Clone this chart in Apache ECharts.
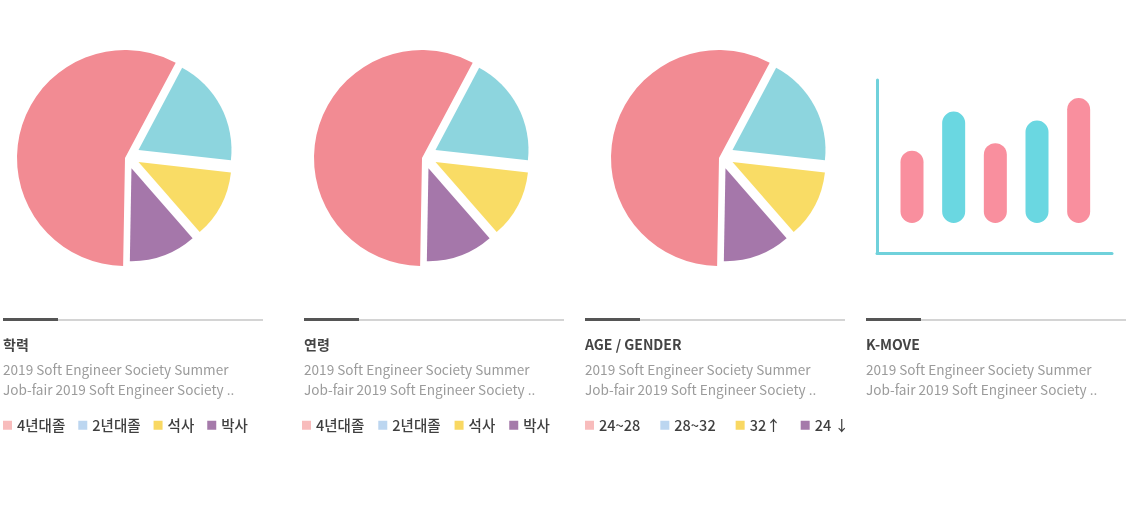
<!DOCTYPE html>
<html>
<head>
<meta charset="utf-8">
<script src="https://cdn.jsdelivr.net/npm/echarts@6/dist/echarts.min.js"></script>
<style>
html,body{margin:0;padding:0;background:#fff;}
#chart{width:1127px;height:511px;}
</style>
</head>
<body>
<div id="chart"></div>
<script>
// ---- data ----
const eduNames = ['4년대졸', '2년대졸', '석사', '박사'];
const eduValues = [57.5, 19, 11.8, 11.7];
const ageNames = ['4년대졸', '2년대졸', '석사', '박사'];
const ageValues = [57.5, 19, 11.8, 11.7];
const genderNames = ['24~28', '28~32', '32↑', '24 ↓'];
const genderValues = [57.5, 19, 11.8, 11.7];
const panelTitles = ['학력', '연령', 'AGE / GENDER', 'K-MOVE'];
const panelDesc = '2019 Soft Engineer Society Summer\nJob-fair 2019 Soft Engineer Society ..';
const barCategories = [1, 2, 3, 4, 5];
const barValues = [48, 74, 53, 68, 83];

// ---- styles ----
const pieColors = ['#f28b93', '#8dd5de', '#f9dc65', '#a577aa'];
const legendColors = ['#f8bcbc', '#bcd6f0', '#f9d862', '#a57aaa'];
const barColors = ['#f98f9e', '#6ad7e1'];
const axisColor = '#70d1db';
const KR = '"Noto Sans CJK KR", "Noto Sans", sans-serif';

const panelX = [3, 304, 585, 866];
const legendX = [3, 302, 585];
const legendGap = [13, 14, 20];
const pieX = [125, 422, 719];
const pieSets = [
  {names: eduNames, values: eduValues},
  {names: ageNames, values: ageValues},
  {names: genderNames, values: genderValues}
];

const series = [];
const legends = [];
pieSets.forEach((set, p) => {
  const cx = pieX[p];
  series.push({
    type: 'pie', silent: true, animation: false,
    center: [cx, 158], radius: 108, startAngle: -91, clockwise: true,
    label: {show: false}, labelLine: {show: false},
    emphasis: {disabled: true},
    data: set.names.map((n, i) => ({
      name: n, value: set.values[i],
      itemStyle: {color: i === 0 ? pieColors[0] : 'rgba(0,0,0,0)'}
    }))
  });
  series.push({
    type: 'pie', silent: true, animation: false,
    center: [cx + 2, 156], radius: 93, startAngle: -91, clockwise: true,
    selectedMode: 'multiple', selectedOffset: 13,
    label: {show: false}, labelLine: {show: false},
    emphasis: {disabled: true},
    data: set.names.map((n, i) => ({
      name: n, value: set.values[i], selected: i !== 0,
      itemStyle: {color: i === 0 ? 'rgba(0,0,0,0)' : pieColors[i]}
    }))
  });
  legends.push({
    left: legendX[p], top: 418, padding: 0, icon: 'rect', itemWidth: 9, itemHeight: 9,
    itemGap: legendGap[p], selectedMode: false,
    textStyle: {fontFamily: KR, fontSize: 14.5, fontWeight: 500, color: '#3f3f3f'},
    data: set.names.map((n, i) => ({name: n, itemStyle: {color: legendColors[i]}}))
  });
});

series.push({
  type: 'bar', xAxisIndex: 0, yAxisIndex: 0, silent: true, animation: false,
  barWidth: 23,
  itemStyle: {borderRadius: 12},
  data: barCategories.map((c, i) => ({
    value: [c, barValues[i]],
    itemStyle: {color: barColors[i % 2]}
  }))
});

const titles = panelTitles.map((t, i) => ({
  text: t, subtext: panelDesc, left: panelX[i], top: 338, padding: 0, itemGap: 8,
  textStyle: {fontFamily: KR, fontSize: 14, fontWeight: 'bold', color: '#444'},
  subtextStyle: {fontFamily: KR, fontSize: 13.6, color: '#9b9b9b', lineHeight: 20}
}));

const graphics = [];
panelX.forEach(x => {
  graphics.push({type: 'rect', left: x + 55, top: 319.5, shape: {width: 205, height: 1}, style: {fill: '#aaaaaa'}, silent: true});
  graphics.push({type: 'rect', left: x, top: 318, shape: {width: 55, height: 3}, style: {fill: '#555555'}, silent: true});
});

const chart = echarts.init(document.getElementById('chart'), null, {renderer: 'canvas'});
chart.setOption({
  backgroundColor: '#ffffff',
  animation: false,
  title: titles,
  legend: legends,
  graphic: graphics,
  grid: [{left: 877, top: 80, width: 235, height: 173}],
  xAxis: [{
    type: 'value', min: 0.16, max: 5.8,
    axisLine: {show: true, onZero: false, lineStyle: {color: axisColor, width: 3}},
    axisTick: {show: false}, axisLabel: {show: false}, splitLine: {show: false}
  }],
  yAxis: [{
    type: 'value', min: -20, max: 95,
    axisLine: {show: true, onZero: false, lineStyle: {color: axisColor, width: 3}},
    axisTick: {show: false}, axisLabel: {show: false}, splitLine: {show: false}
  }],
  series: series
});
</script>
</body>
</html>
